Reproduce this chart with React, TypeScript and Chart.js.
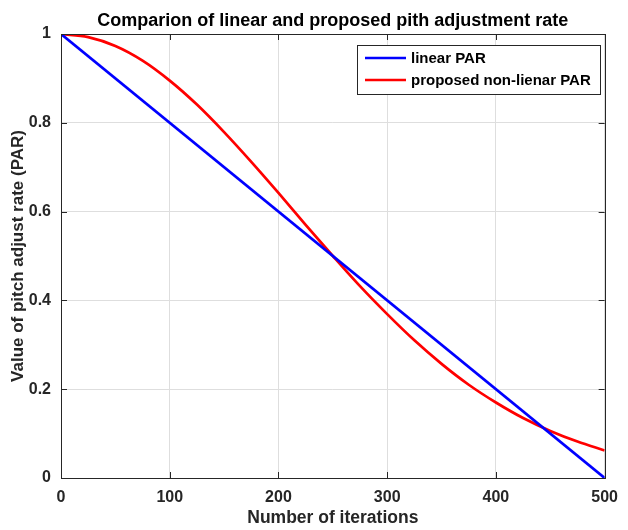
import React, { useEffect, useRef } from 'react';
import { Chart, registerables } from 'chart.js';

Chart.register(...registerables);

const TITLE = 'Comparion of linear and proposed pith adjustment rate';
const X_LABEL = 'Number of iterations';
const Y_LABEL = 'Value of pitch adjust rate (PAR)';
const LEGEND_LABELS = ['linear PAR', 'proposed non-lienar PAR'];

const xTicks = [0, 100, 200, 300, 400, 500];
const yTicks = [0, 0.2, 0.4, 0.6, 0.8, 1];

const linearIterations = [0, 500];
const linearPAR = [1, 0];

const iterations = [0, 25, 50, 75, 100, 125, 150, 175, 200, 225, 250, 275, 300, 325, 350, 375, 400, 425, 450, 475, 500];
const nonLinearPAR = [1, 0.993, 0.973, 0.94, 0.895, 0.841, 0.779, 0.712, 0.642, 0.57, 0.5, 0.432, 0.369, 0.31, 0.257, 0.21, 0.17, 0.135, 0.106, 0.082, 0.062];

const COLORS = ['#0000ff', '#ff0000'];
const FONT = '"Liberation Sans", Arial, Helvetica, sans-serif';
const AXIS_COLOR = '#262626';

const framePlugin = {
  id: 'matlabFrame',
  afterDraw(chart: any) {
    const { ctx, chartArea: a, scales } = chart;
    ctx.save();
    ctx.strokeStyle = AXIS_COLOR;
    ctx.lineWidth = 1;
    const tl = 6;
    ctx.beginPath();
    xTicks.forEach((v) => {
      const px = Math.round(scales.x.getPixelForValue(v)) + 0.5;
      ctx.moveTo(px, a.bottom);
      ctx.lineTo(px, a.bottom - tl);
      ctx.moveTo(px, a.top);
      ctx.lineTo(px, a.top + tl);
    });
    yTicks.forEach((v) => {
      const py = Math.round(scales.y.getPixelForValue(v)) + 0.5;
      ctx.moveTo(a.left, py);
      ctx.lineTo(a.left + tl, py);
      ctx.moveTo(a.right, py);
      ctx.lineTo(a.right - tl, py);
    });
    ctx.stroke();
    ctx.strokeRect(Math.round(a.left) + 0.5, Math.round(a.top) + 0.5, Math.round(a.right - a.left), Math.round(a.bottom - a.top));

    // title
    ctx.fillStyle = '#000';
    ctx.font = `bold 18px ${FONT}`;
    ctx.textAlign = 'center';
    ctx.textBaseline = 'middle';
    ctx.fillText(TITLE, (a.left + a.right) / 2, 21);

    // legend
    const bx = Math.round(a.right) - 248;
    const by = Math.round(a.top) + 11;
    const bw = 243;
    const bh = 49;
    ctx.fillStyle = '#fff';
    ctx.fillRect(bx, by, bw, bh);
    ctx.strokeStyle = AXIS_COLOR;
    ctx.lineWidth = 1;
    ctx.strokeRect(bx + 0.5, by + 0.5, bw, bh);
    ctx.font = `bold 15px ${FONT}`;
    ctx.textAlign = 'left';
    ctx.textBaseline = 'middle';
    LEGEND_LABELS.forEach((label, i) => {
      const y = by + 13 + i * 22;
      ctx.strokeStyle = COLORS[i];
      ctx.lineWidth = 2.7;
      ctx.beginPath();
      ctx.moveTo(bx + 8, y);
      ctx.lineTo(bx + 49, y);
      ctx.stroke();
      ctx.fillStyle = '#000';
      ctx.fillText(label, bx + 54, y + 1);
    });
    ctx.restore();
  },
};

export default function App() {
  const ref = useRef<HTMLCanvasElement | null>(null);

  useEffect(() => {
    if (!ref.current) return;
    const chart = new Chart(ref.current, {
      type: 'line',
      data: {
        datasets: [
          {
            label: LEGEND_LABELS[0],
            data: linearIterations.map((x, i) => ({ x, y: linearPAR[i] })),
            borderColor: COLORS[0],
            borderWidth: 2.7,
            pointRadius: 0,
            fill: false,
          },
          {
            label: LEGEND_LABELS[1],
            data: iterations.map((x, i) => ({ x, y: nonLinearPAR[i] })),
            borderColor: COLORS[1],
            borderWidth: 2.7,
            pointRadius: 0,
            fill: false,
            cubicInterpolationMode: 'monotone',
          },
        ],
      },
      options: {
        animation: false,
        responsive: false,
        devicePixelRatio: 1,
        layout: { padding: { top: 34, right: 14, bottom: 0, left: 0 } },
        plugins: {
          legend: { display: false },
          title: { display: false },
          tooltip: { enabled: false },
        },
        scales: {
          x: {
            type: 'linear',
            min: 0,
            max: 500,
            afterBuildTicks: (s: any) => {
              s.ticks = xTicks.map((v) => ({ value: v }));
            },
            afterFit: (s: any) => {
              s.height = 52;
            },
            grid: { color: '#dedede', drawTicks: false, lineWidth: 1 },
            border: { display: false },
            ticks: {
              padding: 10,
              color: AXIS_COLOR,
              font: { family: FONT, size: 16, weight: 'bold' },
              callback: (v: any) => String(v),
            },
            title: {
              display: true,
              text: X_LABEL,
              color: AXIS_COLOR,
              font: { family: FONT, size: 17.5, weight: 'bold' },
              padding: { top: 0, bottom: 1.5 },
            },
          },
          y: {
            type: 'linear',
            min: 0,
            max: 1,
            afterBuildTicks: (s: any) => {
              s.ticks = yTicks.map((v) => ({ value: v }));
            },
            afterFit: (s: any) => {
              s.width = 61;
            },
            grid: { color: '#dedede', drawTicks: false, lineWidth: 1 },
            border: { display: false },
            ticks: {
              padding: 10,
              color: AXIS_COLOR,
              font: { family: FONT, size: 16, weight: 'bold' },
              callback: (v: any) => String(Math.round(Number(v) * 10) / 10),
            },
            title: {
              display: true,
              text: Y_LABEL,
              color: AXIS_COLOR,
              font: { family: FONT, size: 17, weight: 'bold' },
              padding: { top: 7.8, bottom: 0 },
            },
          },
        },
      },
      plugins: [framePlugin],
    } as any);
    return () => chart.destroy();
  }, []);

  return (
    <canvas
      ref={ref}
      width={628}
      height={530}
      style={{ position: 'absolute', left: 0, top: 0, width: 628, height: 530 }}
    />
  );
}
